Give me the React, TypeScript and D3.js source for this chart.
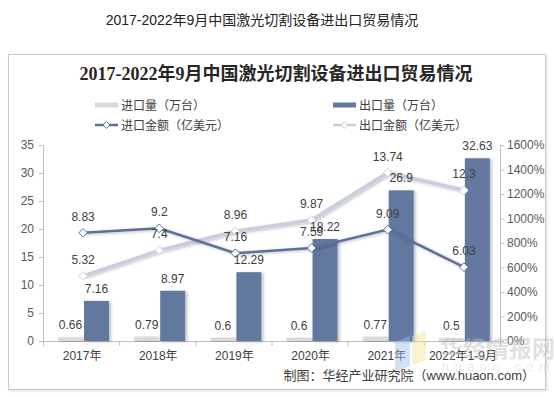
import React, { useEffect, useRef } from 'react';
import * as d3 from 'd3';

const categories = ['2017年', '2018年', '2019年', '2020年', '2021年', '2022年1-9月'];
const importQty = [0.66, 0.79, 0.6, 0.6, 0.77, 0.5];
const exportQty = [7.16, 8.97, 12.29, 18.22, 26.9, 32.63];
const importValue = [8.83, 9.2, 7.16, 7.59, 9.09, 6.03];
const exportValue = [5.32, 7.4, 8.96, 9.87, 13.74, 12.3];
const leftTicks = [0, 5, 10, 15, 20, 25, 30, 35];
const rightTicks = [0, 200, 400, 600, 800, 1000, 1200, 1400, 1600];

const App = () => {
  const chartRef = useRef<SVGSVGElement>(null);

  useEffect(() => {
    drawChart();
  }, []);

  const drawChart = () => {
    const width = 554;
    const height = 397;
    const svg = d3.select(chartRef.current)
      .attr('width', width)
      .attr('height', height)
      .attr('style', 'display:block; background:white; font-family: "Liberation Sans", "Noto Sans CJK SC", sans-serif;');
    svg.selectAll('*').remove();

    const defs = svg.append('defs');
    const shadow = defs.append('filter').attr('id', 'bar-shadow')
      .attr('x', '-30%').attr('y', '-10%').attr('width', '160%').attr('height', '130%');
    shadow.append('feDropShadow')
      .attr('dx', 2).attr('dy', 1).attr('stdDeviation', 1.5)
      .attr('flood-color', '#000').attr('flood-opacity', 0.25);
    const boxShadow = defs.append('filter').attr('id', 'box-shadow')
      .attr('x', '-5%').attr('y', '-5%').attr('width', '110%').attr('height', '110%');
    boxShadow.append('feDropShadow')
      .attr('dx', 1).attr('dy', 1).attr('stdDeviation', 1)
      .attr('flood-color', '#000').attr('flood-opacity', 0.15);

    // page title
    svg.append('text')
      .attr('x', 262).attr('y', 25)
      .attr('text-anchor', 'middle')
      .attr('font-size', 14)
      .attr('fill', '#222')
      .text('2017-2022年9月中国激光切割设备进出口贸易情况');

    // card
    svg.append('rect')
      .attr('x', 8.5).attr('y', 54.5).attr('width', 537).attr('height', 335)
      .attr('fill', 'white').attr('stroke', '#c8c8c8')
      .attr('filter', 'url(#box-shadow)');

    svg.append('text')
      .attr('x', 276).attr('y', 80)
      .attr('text-anchor', 'middle')
      .attr('font-size', 18)
      .attr('font-weight', 'bold')
      .attr('font-family', '"Liberation Serif", "Noto Sans CJK SC", serif')
      .attr('fill', '#262626')
      .text('2017-2022年9月中国激光切割设备进出口贸易情况');

    const left = 43, right = 500, top = 145, bottom = 341;

    const x0 = d3.scaleBand().domain(categories).range([left, right]);
    const x1 = d3.scaleBand().domain(['imp', 'exp']).range([15, 66]).paddingInner(0.04);
    const yL = d3.scaleLinear().domain([0, 35]).range([bottom, top]);
    const yR = d3.scaleLinear().domain([0, 1600]).range([bottom, top]);

    // axes
    const axisColor = '#bfbfbf';
    const gL = svg.append('g').attr('transform', `translate(${left},0)`)
      .call(d3.axisLeft(yL).tickValues(leftTicks).tickSize(4).tickPadding(5));
    const gR = svg.append('g').attr('transform', `translate(${right},0)`)
      .call(d3.axisRight(yR).tickValues(rightTicks).tickSize(4).tickPadding(3).tickFormat(d => `${d}%`));
    [gL, gR].forEach(g => {
      g.select('.domain').attr('stroke', axisColor);
      g.selectAll('.tick line').attr('stroke', axisColor);
      g.selectAll('.tick text').attr('fill', '#595959').attr('font-size', 12)
        .attr('font-family', '"Liberation Sans", sans-serif');
    });

    const gX = svg.append('g');
    gX.append('line').attr('x1', left).attr('x2', right).attr('y1', bottom + 0.5).attr('y2', bottom + 0.5)
      .attr('stroke', axisColor);
    gX.selectAll('line.tk')
      .data([...categories.map(c => x0(c)!), right])
      .join('line')
      .attr('class', 'tk')
      .attr('x1', d => d + 0.5).attr('x2', d => d + 0.5)
      .attr('y1', bottom).attr('y2', bottom + 5)
      .attr('stroke', axisColor);
    gX.selectAll('text')
      .data(categories)
      .join('text')
      .attr('x', d => x0(d)! + x0.bandwidth() / 2 + 1)
      .attr('y', 360)
      .attr('text-anchor', 'middle')
      .attr('font-size', 12)
      .attr('fill', '#404040')
      .text(d => d);

    // bars
    const bars = svg.append('g');
    bars.selectAll('rect.imp')
      .data(importQty)
      .join('rect')
      .attr('class', 'imp')
      .attr('x', (d, i) => x0(categories[i])! + x1('imp')!)
      .attr('width', x1.bandwidth())
      .attr('y', d => yL(d))
      .attr('height', d => bottom - yL(d))
      .attr('fill', '#d9d9d9')
      .attr('filter', 'url(#bar-shadow)');
    bars.selectAll('rect.exp')
      .data(exportQty)
      .join('rect')
      .attr('class', 'exp')
      .attr('x', (d, i) => x0(categories[i])! + x1('exp')!)
      .attr('width', x1.bandwidth())
      .attr('y', d => yL(d))
      .attr('height', d => bottom - yL(d))
      .attr('fill', '#63789f')
      .attr('filter', 'url(#bar-shadow)');

    // lines (plotted on right axis, value x100 %)
    const cx = (i: number) => x0(categories[i])! + x0.bandwidth() / 2 + 2;
    const line = d3.line<number>().x((d, i) => cx(i)).y(d => yR(d * 100));
    const diamond = d3.symbol().type(d3.symbolDiamond2).size(48);

    const drawSeries = (values: number[], color: string, width: number) => {
      const g = svg.append('g');
      g.append('path')
        .datum(values)
        .attr('d', line)
        .attr('fill', 'none')
        .attr('stroke', color)
        .attr('stroke-width', width)
        .attr('filter', 'url(#bar-shadow)');
      g.selectAll('path.mk')
        .data(values)
        .join('path')
        .attr('class', 'mk')
        .attr('d', diamond as any)
        .attr('transform', (d, i) => `translate(${cx(i)},${yR(d * 100)})`)
        .attr('fill', 'white')
        .attr('stroke', color)
        .attr('stroke-width', 1);
    };
    drawSeries(exportValue, '#c8cfdc', 3.5);
    drawSeries(importValue, '#5b6f98', 2.5);

    // data labels on top
    const labelFont = 12;
    const labelColor = '#404040';
    const labels = svg.append('g')
      .attr('text-anchor', 'middle')
      .attr('font-size', labelFont)
      .attr('fill', labelColor);
    labels.selectAll('text.imp')
      .data(importQty)
      .join('text')
      .attr('class', 'imp')
      .attr('x', (d, i) => x0(categories[i])! + x1('imp')! + x1.bandwidth() / 2)
      .attr('y', d => yL(d) - 8)
      .text(d => d);
    labels.selectAll('text.exp')
      .data(exportQty)
      .join('text')
      .attr('class', 'exp')
      .attr('x', (d, i) => x0(categories[i])! + x1('exp')! + x1.bandwidth() / 2)
      .attr('y', d => yL(d) - 8)
      .text(d => d);
    [exportValue, importValue].forEach((values, k) => {
      labels.selectAll(`text.v${k}`)
        .data(values)
        .join('text')
        .attr('class', `v${k}`)
        .attr('x', (d, i) => cx(i))
        .attr('y', d => yR(d * 100) - 12)
        .text(d => d);
    });

    // legend
    const legend = svg.append('g').attr('font-size', 12).attr('fill', '#404040');
    const items = [
      { label: '进口量（万台）', x: 95, y: 105, type: 'bar', color: '#d9d9d9' },
      { label: '出口量（万台）', x: 333, y: 105, type: 'bar', color: '#63789f' },
      { label: '进口金额（亿美元）', x: 95, y: 125, type: 'line', color: '#5b6f98' },
      { label: '出口金额（亿美元）', x: 333, y: 125, type: 'line', color: '#c8cfdc' },
    ];
    items.forEach(it => {
      if (it.type === 'bar') {
        legend.append('rect').attr('x', it.x).attr('y', it.y - 2.5).attr('width', 23).attr('height', 5)
          .attr('fill', it.color);
      } else {
        legend.append('line').attr('x1', it.x).attr('x2', it.x + 23).attr('y1', it.y).attr('y2', it.y)
          .attr('stroke', it.color).attr('stroke-width', 2.5);
        legend.append('path').attr('d', d3.symbol().type(d3.symbolDiamond2).size(30)() as string)
          .attr('transform', `translate(${it.x + 11.5},${it.y})`)
          .attr('fill', 'white').attr('stroke', it.color);
      }
      legend.append('text').attr('x', it.x + 26).attr('y', it.y + 4.5).text(it.label);
    });

    // watermark (semi-transparent, over the chart like the reference)
    const wm = svg.append('g').attr('opacity', 0.45);
    wm.append('polygon').attr('points', '395,342 410,336 410,366 395,372').attr('fill', '#9cc0ea');
    wm.append('polygon').attr('points', '412,336 426,330 426,360 412,366').attr('fill', '#f5e39a');
    wm.append('text').attr('x', 440).attr('y', 357).attr('font-size', 23).attr('font-weight', 'bold')
      .attr('fill', '#bcbcbc').text('华经情报网');
    wm.append('text').attr('x', 442).attr('y', 371).attr('font-size', 12)
      .attr('letter-spacing', 6).attr('fill', '#cfcfcf').text('huaon.com');

    // source
    svg.append('text')
      .attr('x', 535).attr('y', 380)
      .attr('text-anchor', 'end')
      .attr('font-size', 13)
      .attr('fill', '#404040')
      .text('制图：华经产业研究院（www.huaon.com）');
  };

  return (
    <div style={{ position: 'absolute', left: 0, top: 0 }}>
      <svg ref={chartRef}></svg>
    </div>
  );
};

export default App;
